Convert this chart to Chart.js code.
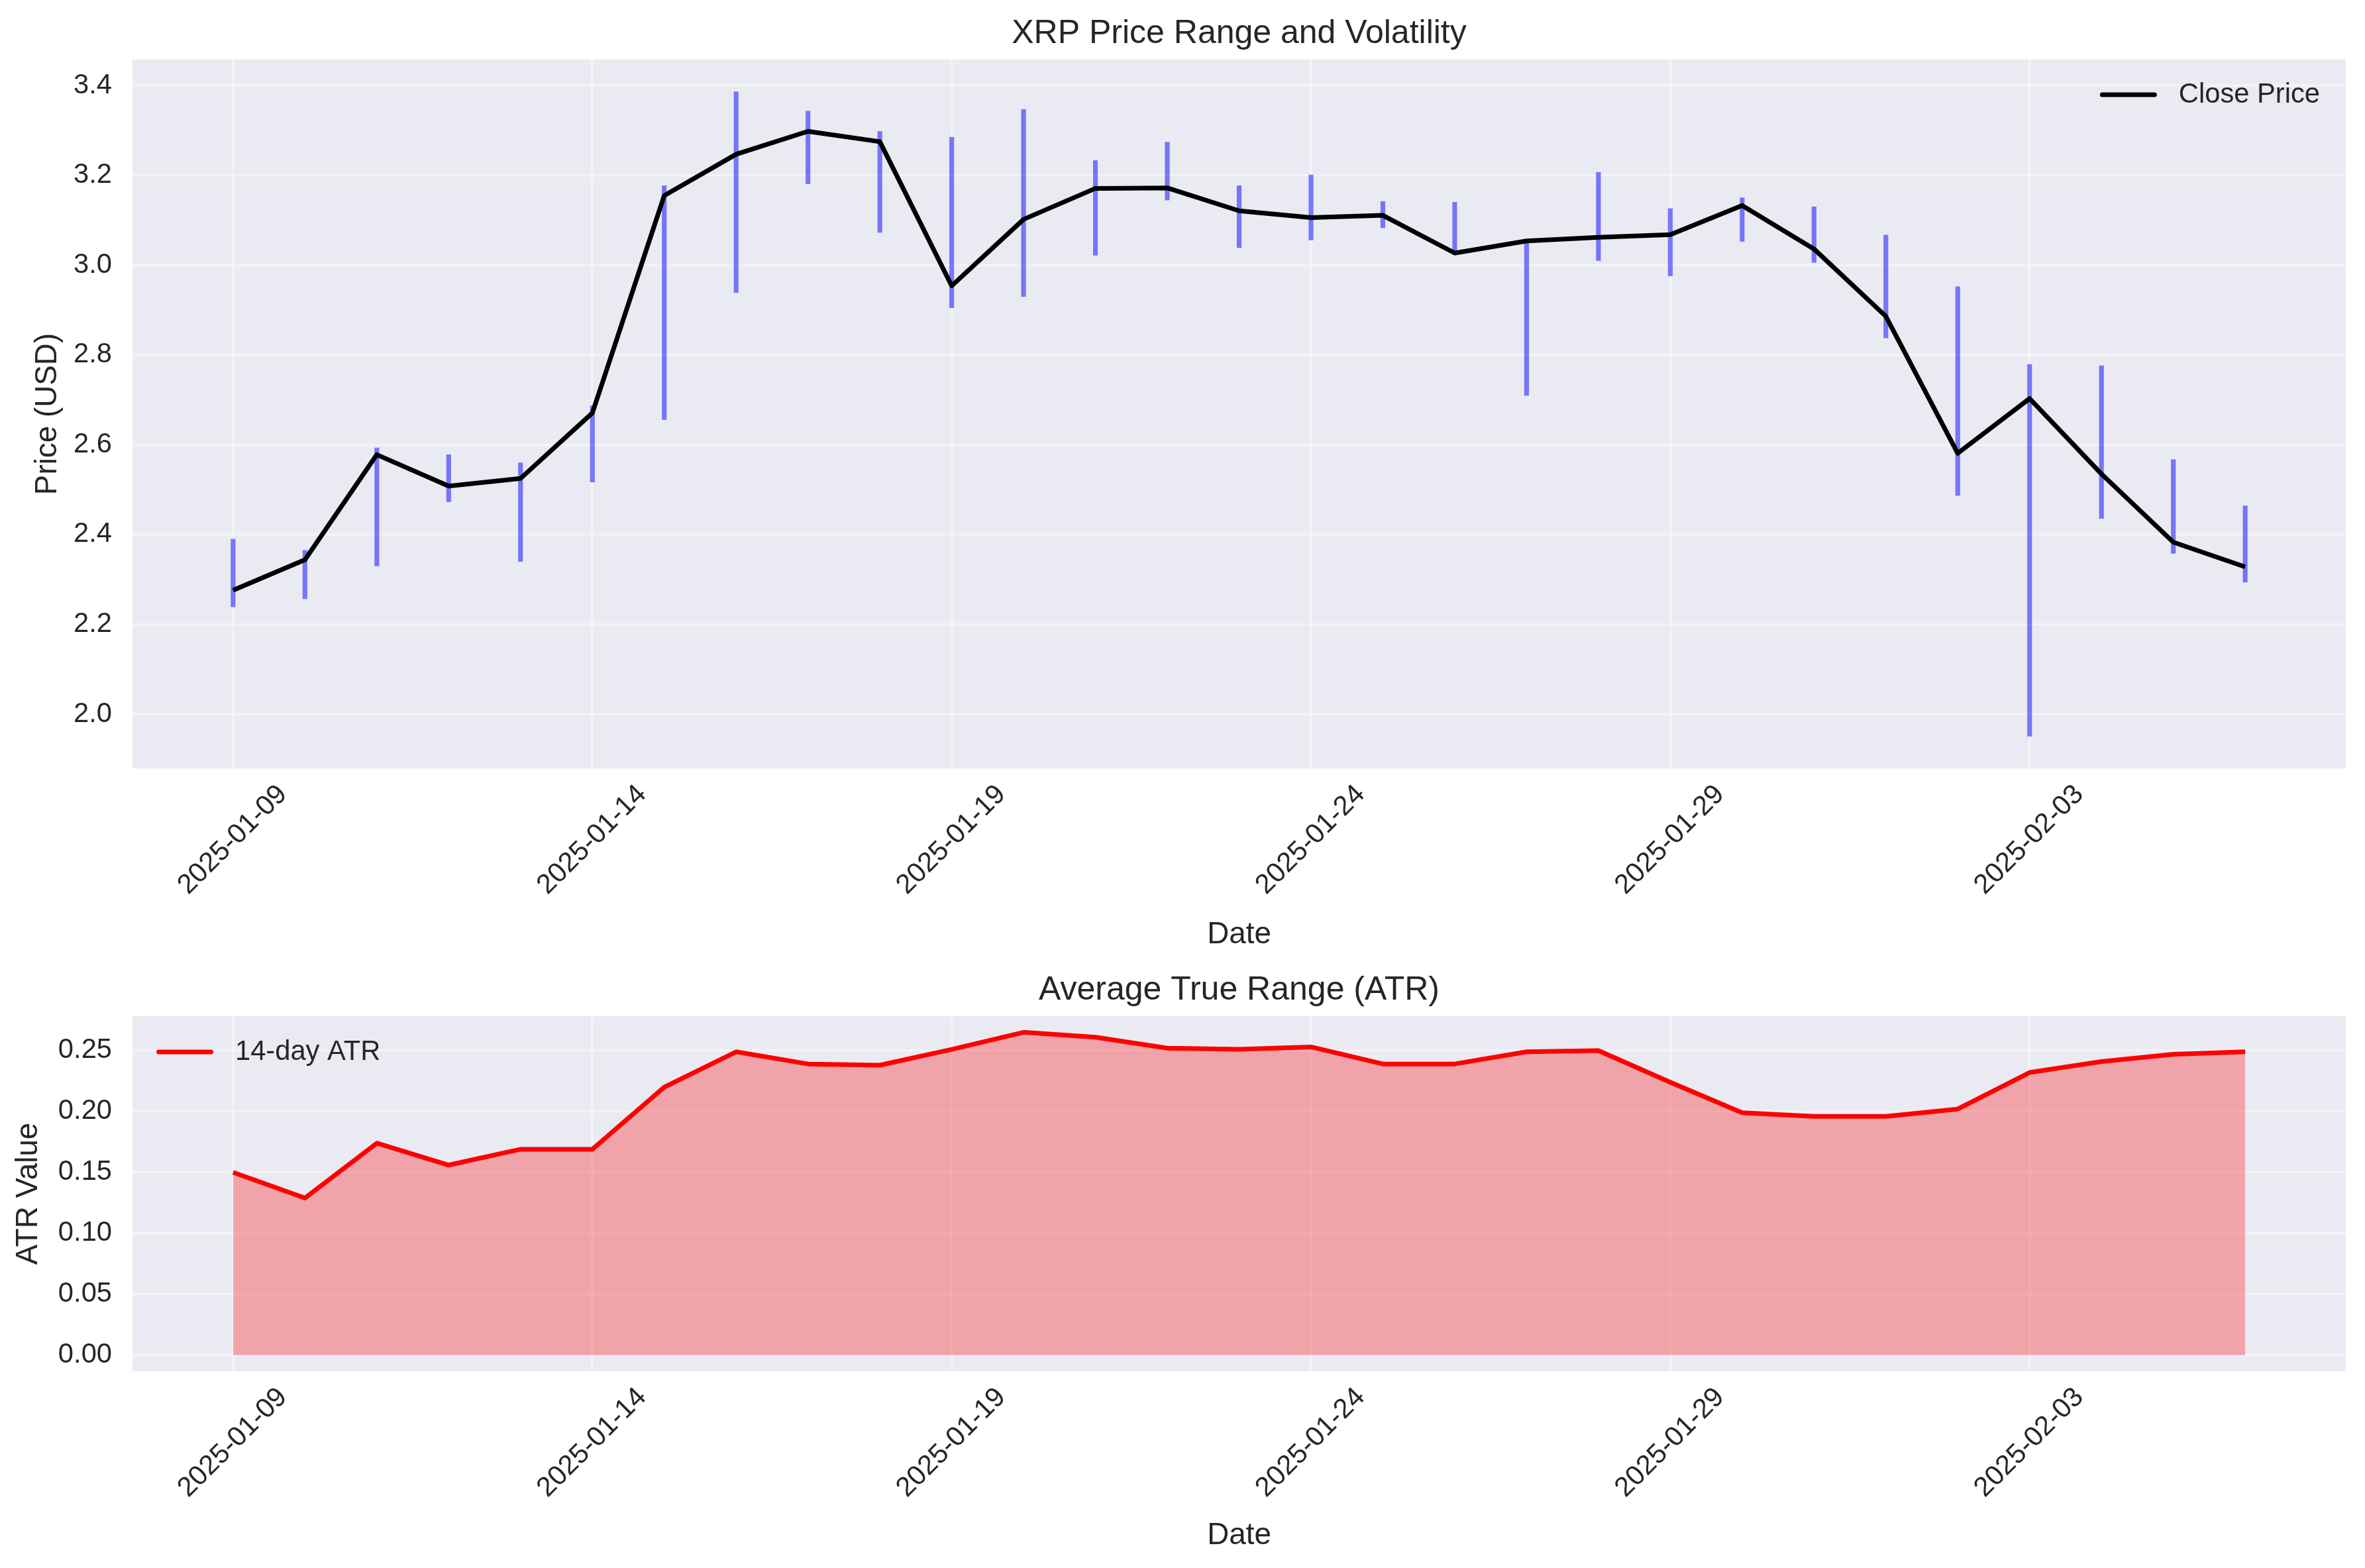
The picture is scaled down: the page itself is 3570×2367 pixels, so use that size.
<!DOCTYPE html>
<html>
<head>
<meta charset="utf-8">
<title>XRP Price Range and Volatility</title>
<script src="https://cdn.jsdelivr.net/npm/chart.js@4.4.1/dist/chart.umd.min.js"></script>
<style>
  html, body { margin: 0; padding: 0; background: #ffffff; }
  #wrap { position: relative; width: 3570px; height: 2367px; }
  canvas { position: absolute; left: 0; }
  #priceChart { top: 0; }
  #atrChart { top: 1450px; }
</style>
</head>
<body>
<div id="wrap">
  <canvas id="priceChart" width="3570" height="1450"></canvas>
  <canvas id="atrChart" width="3570" height="917"></canvas>
</div>
<script>
const dates = [
  '2025-01-09', '2025-01-10', '2025-01-11', '2025-01-12', '2025-01-13', '2025-01-14',
  '2025-01-15', '2025-01-16', '2025-01-17', '2025-01-18', '2025-01-19', '2025-01-20',
  '2025-01-21', '2025-01-22', '2025-01-23', '2025-01-24', '2025-01-25', '2025-01-26',
  '2025-01-27', '2025-01-28', '2025-01-29', '2025-01-30', '2025-01-31', '2025-02-01',
  '2025-02-02', '2025-02-03', '2025-02-04', '2025-02-05', '2025-02-06'
];
const closePrice = [
  2.276, 2.344, 2.578, 2.508, 2.525, 2.671, 3.155, 3.247, 3.298, 3.275,
  2.954, 3.102, 3.171, 3.172, 3.121, 3.106, 3.111, 3.027, 3.054, 3.062,
  3.068, 3.133, 3.036, 2.886, 2.581, 2.703, 2.535, 2.383, 2.328
];
const highPrice = [
  2.390, 2.365, 2.593, 2.578, 2.560, 2.687, 3.177, 3.386, 3.343, 3.298,
  3.285, 3.347, 3.233, 3.274, 3.177, 3.201, 3.142, 3.140, 3.055, 3.207,
  3.126, 3.150, 3.130, 3.067, 2.952, 2.779, 2.776, 2.567, 2.464
];
const lowPrice = [
  2.239, 2.257, 2.330, 2.473, 2.340, 2.517, 2.656, 2.939, 3.181, 3.073,
  2.905, 2.930, 3.022, 3.145, 3.039, 3.056, 3.083, 3.028, 2.710, 3.010,
  2.976, 3.053, 3.006, 2.838, 2.487, 1.951, 2.436, 2.358, 2.294
];
const atr = [
  0.150, 0.129, 0.174, 0.156, 0.169, 0.169, 0.220, 0.249, 0.239, 0.238,
  0.251, 0.265, 0.261, 0.252, 0.251, 0.253, 0.239, 0.239, 0.249, 0.250,
  0.224, 0.199, 0.196, 0.196, 0.202, 0.232, 0.241, 0.247, 0.249
];
const dateTicks = ['2025-01-09', '2025-01-14', '2025-01-19', '2025-01-24', '2025-01-29', '2025-02-03'];
const priceTicks = [2.0, 2.2, 2.4, 2.6, 2.8, 3.0, 3.2, 3.4];
const atrTicks = [0.00, 0.05, 0.10, 0.15, 0.20, 0.25];

const FONT = '"Liberation Sans", Arial, sans-serif';
const TEXT = '#262626';
Chart.defaults.font.family = FONT;
Chart.defaults.color = TEXT;

// matplotlib-like 5% margins
const pad = (lo, hi) => { const m = (hi - lo) * 0.05; return [lo - m, hi + m]; };
const [xMin, xMax] = pad(0, dates.length - 1);
const [pMin, pMax] = pad(Math.min(...lowPrice), Math.max(...highPrice));
const [aMin, aMax] = pad(0, Math.max(...atr));

const plotBg = {
  id: 'plotBg',
  beforeDraw(chart) {
    const { ctx, chartArea: a } = chart;
    ctx.save();
    ctx.fillStyle = '#EAEAF2';
    ctx.fillRect(a.left, a.top, a.right - a.left, a.bottom - a.top);
    ctx.restore();
  }
};

// legend drawn inside the axes, like matplotlib
const insideLegend = {
  id: 'insideLegend',
  afterDatasetsDraw(chart, args, opts) {
    const ds = chart.data.datasets[0];
    const { ctx, chartArea } = chart;
    ctx.save();
    ctx.font = '41.7px ' + FONT;
    const textW = ctx.measureText(ds.label).width;
    const lineLen = 86, gap = 33;
    const x0 = opts.side === 'right'
      ? chartArea.right - opts.inset - textW - gap - lineLen
      : chartArea.left + opts.inset;
    const y = chartArea.top + opts.dy;
    ctx.strokeStyle = ds.borderColor;
    ctx.lineWidth = ds.borderWidth;
    ctx.lineCap = 'round';
    ctx.beginPath();
    ctx.moveTo(x0 + 3.5, y);
    ctx.lineTo(x0 + lineLen - 3.5, y);
    ctx.stroke();
    ctx.fillStyle = TEXT;
    ctx.textBaseline = 'middle';
    ctx.fillText(ds.label, x0 + lineLen + gap, y + 1);
    ctx.restore();
  }
};

function xAxis(titlePadBottom, height) {
  return {
    type: 'linear',
    min: xMin,
    max: xMax,
    offset: false,
    afterBuildTicks: s => { s.ticks = dateTicks.map(d => ({ value: dates.indexOf(d) })); },
    afterFit: s => { s.height = height; },
    ticks: {
      autoSkip: false,
      minRotation: 45,
      maxRotation: 45,
      padding: 15,
      labelOffset: 75,
      font: { size: 41.7 },
      callback: v => dates[v]
    },
    grid: { color: 'rgba(255,255,255,0.45)', lineWidth: 3.5, drawTicks: false, offset: false },
    border: { display: false },
    title: { display: true, text: 'Date', font: { size: 45.8 }, padding: { top: 0, bottom: titlePadBottom } }
  };
}

function yAxis(min, max, tickList, digits, label, titlePadLeft) {
  return {
    min: min,
    max: max,
    afterBuildTicks: s => { s.ticks = tickList.map(v => ({ value: v })); },
    afterFit: s => { s.width = 200; },
    ticks: { padding: 31, font: { size: 41.7 }, callback: v => Number(v).toFixed(digits) },
    grid: { color: 'rgba(255,255,255,0.45)', lineWidth: 3.5, drawTicks: false },
    border: { display: false },
    title: { display: true, text: label, font: { size: 45.8 }, padding: { top: titlePadLeft, bottom: 0 } }
  };
}

new Chart(document.getElementById('priceChart'), {
  type: 'bar',
  data: {
    datasets: [
      {
        type: 'line',
        label: 'Close Price',
        data: closePrice.map((v, i) => ({ x: i, y: v })),
        borderColor: '#000000',
        borderWidth: 7,
        borderJoinStyle: 'round',
        pointRadius: 0,
        tension: 0,
        order: 0
      },
      {
        type: 'bar',
        label: 'High-Low Range',
        data: lowPrice.map((v, i) => ({ x: i, y: [v, highPrice[i]] })),
        backgroundColor: 'rgba(0, 0, 255, 0.5)',
        borderWidth: 0,
        barThickness: 6.5,
        grouped: false,
        order: 1
      }
    ]
  },
  options: {
    responsive: false,
    animation: false,
    layout: { padding: { left: 0, right: 29, top: 0, bottom: 0 } },
    scales: {
      x: xAxis(11.5, 290),
      y: yAxis(pMin, pMax, priceTicks, 1, 'Price (USD)', 44.5)
    },
    plugins: {
      legend: { display: false },
      tooltip: { enabled: false },
      title: {
        display: true,
        text: 'XRP Price Range and Volatility',
        fullSize: false,
        color: TEXT,
        font: { size: 50, weight: 'normal' },
        padding: { top: 21, bottom: 9 }
      },
      insideLegend: { side: 'right', inset: 39, dy: 53 }
    }
  },
  plugins: [plotBg, insideLegend]
});

new Chart(document.getElementById('atrChart'), {
  type: 'line',
  data: {
    datasets: [
      {
        label: '14-day ATR',
        data: atr.map((v, i) => ({ x: i, y: v })),
        borderColor: '#FF0000',
        borderWidth: 7,
        borderJoinStyle: 'round',
        backgroundColor: 'rgba(255, 0, 0, 0.3)',
        fill: 'origin',
        pointRadius: 0,
        tension: 0
      }
    ]
  },
  options: {
    responsive: false,
    animation: false,
    layout: { padding: { left: 0, right: 29, top: 0, bottom: 0 } },
    scales: {
      x: xAxis(21.5, 297),
      y: yAxis(aMin, aMax, atrTicks, 2, 'ATR Value', 15.5)
    },
    plugins: {
      legend: { display: false },
      tooltip: { enabled: false },
      title: {
        display: true,
        text: 'Average True Range (ATR)',
        fullSize: false,
        color: TEXT,
        font: { size: 50, weight: 'normal' },
        padding: { top: 15, bottom: 9 }
      },
      insideLegend: { side: 'left', inset: 36, dy: 54 }
    }
  },
  plugins: [plotBg, insideLegend]
});
</script>
</body>
</html>
